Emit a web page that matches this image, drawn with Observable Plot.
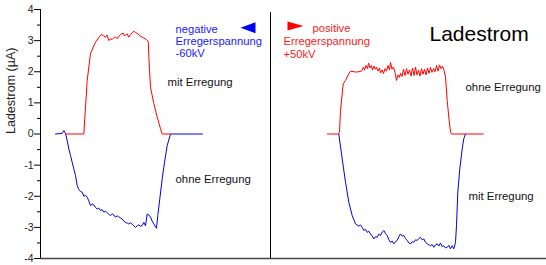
<!DOCTYPE html>
<html>
<head>
<meta charset="utf-8">
<script src="https://cdn.jsdelivr.net/npm/d3@7"></script>
<script src="https://cdn.jsdelivr.net/npm/@observablehq/plot@0.6"></script>
<style>
  html, body { margin: 0; padding: 0; background: #fff; }
  #chart { width: 546px; height: 265px; }
</style>
</head>
<body>
<div id="chart"></div>
<script>
// time (arbitrary units) and current (µA)
const leftRed = [[25,0],[43.3,0],[46.7,1.72],[50,2.59],[55,2.95],[60,3.17],[61.7,3.2],[63,3.15],[65,3.11],[66.5,3.18],[68.3,3.0],[70,3.06],[71.5,3.03],[73.3,3.09],[75,3.12],[76.7,3.06],[78,3.12],[80,3.2],[82.7,3.24],[84,3.15],[85,3.17],[86.5,3.22],[88.3,3.11],[90,3.2],[91.5,3.25],[93.3,3.3],[95,3.26],[97.3,3.22],[99,3.16],[101.7,3.11],[103.5,3.08],[106,3.03],[107.7,2.98],[109,2.04],[110,1.5],[113.3,0.98],[116.7,0.54],[120,0.17],[121.7,0],[130,0]];
const leftBlue = [[15,0],[21.7,0.02],[23.3,0.11],[25,0.02],[26.7,-0.21],[28.3,-0.48],[30,-0.69],[31.7,-0.91],[33.3,-1.12],[35,-1.33],[36.7,-1.66],[38.3,-1.78],[40,-1.85],[41.7,-1.87],[43.3,-2.0],[45,-1.97],[46.7,-2.03],[48.3,-2.15],[50,-2.3],[51.7,-2.25],[53.3,-2.28],[55,-2.36],[56.7,-2.41],[58.3,-2.38],[60,-2.46],[61.7,-2.43],[63.3,-2.51],[65,-2.48],[66.7,-2.53],[68.3,-2.58],[70,-2.62],[71.7,-2.57],[73.3,-2.6],[75,-2.67],[76.7,-2.63],[78.3,-2.66],[80,-2.7],[81.7,-2.73],[83.3,-2.8],[85,-2.84],[86.7,-2.86],[88.3,-2.89],[90,-2.85],[91.7,-2.9],[93.3,-2.95],[95,-3.0],[96.7,-2.95],[98.3,-2.92],[100,-2.96],[101.7,-2.94],[103.3,-2.84],[105,-2.95],[106.7,-2.57],[108.3,-2.6],[110,-2.67],[111.7,-2.8],[113.3,-2.89],[116,-3.03],[117.3,-2.62],[119.3,-2.08],[121.7,-1.44],[124,-0.91],[126.7,-0.37],[130,0],[162,0]];
const rightRed = [[287,0],[298,0],[299,0.06],[300,0.76],[302.7,1.61],[305,1.72],[308.3,1.94],[310,2.02],[315,1.99],[318,2.0],[321,2.02],[323,2.15],[324,2.05],[325.5,2.2],[327,2.1],[328,2.28],[329.5,2.12],[331,2.2],[332,2.05],[333.5,2.18],[335,2.08],[336,2.15],[337.5,2.02],[339,2.12],[340,1.96],[341.5,2.06],[343,1.94],[344.5,2.1],[346,2.02],[347.5,2.2],[349,2.06],[350,2.3],[351.5,2.08],[353,2.15],[354.5,1.98],[356,1.72],[357.5,1.9],[359,1.82],[360,1.95],[361.5,1.85],[363,2.08],[364.5,1.88],[366,2.1],[367.5,1.92],[369,2.06],[370.5,1.86],[372,2.12],[373.5,1.88],[375,2.15],[376.5,1.9],[378,2.05],[379.5,1.86],[381,2.1],[382.5,1.92],[384,2.08],[385.5,1.9],[387,2.12],[388.5,1.95],[390,2.14],[391.5,1.98],[393,2.1],[394.5,2.0],[396,2.2],[397.5,2.02],[399,2.22],[400.5,2.1],[402,2.18],[403.5,2.05],[405,1.83],[406.7,1.08],[408.3,0.54],[410,0.06],[411,0],[442.7,0]];
const rightBlue = [[298.3,0],[301.7,-0.8],[305,-1.55],[308.3,-2.19],[311.7,-2.62],[315,-2.89],[318.3,-2.96],[320,-2.92],[321.7,-3.0],[323.3,-3.1],[325,-3.06],[326.7,-3.16],[328.3,-3.12],[330,-3.21],[331.7,-3.28],[333.3,-3.37],[335,-3.3],[336.7,-3.32],[338.3,-3.22],[340,-3.26],[341.7,-3.15],[343.3,-3.1],[345,-3.2],[346.7,-3.26],[348.3,-3.4],[350,-3.48],[351.7,-3.44],[353.3,-3.53],[355,-3.46],[356.7,-3.42],[358.3,-3.3],[360,-3.21],[361.7,-3.28],[363.3,-3.26],[365,-3.36],[366.7,-3.42],[368.3,-3.5],[370,-3.53],[371.7,-3.46],[373.3,-3.48],[375,-3.4],[376.7,-3.42],[378.3,-3.36],[380,-3.32],[381.7,-3.4],[383.3,-3.37],[385,-3.48],[386.7,-3.53],[388.3,-3.56],[390,-3.59],[391.7,-3.55],[393.3,-3.64],[395,-3.56],[396.7,-3.53],[398.3,-3.6],[400,-3.5],[401.7,-3.62],[403.3,-3.59],[405,-3.66],[406.7,-3.64],[408.3,-3.58],[410,-3.69],[411.7,-3.59],[413.3,-3.69],[415,-3.48],[416,-2.94],[417.3,-1.87],[419.3,-1.12],[421.7,-0.48],[423.3,-0.15],[425,0]];

const majorTicks = [-4,-3,-2,-1,0,1,2,3,4];
const minorTicks = [-3.5,-2.5,-1.5,-0.5,0.5,1.5,2.5,3.5];
const dividerX = 230;

const blackLabels = [
  {x: 127, y: 1.67, text: "mit Erregung"},
  {x: 135, y: -1.45, text: "ohne Erregung"},
  {x: 425, y: 1.51, text: "ohne Erregung"},
  {x: 428, y: -1.99, text: "mit Erregung"}
];
const blueLabels = [
  {x: 135, y: 3.36, text: "negative"},
  {x: 135, y: 2.99, text: "Erregerspannung"},
  {x: 135, y: 2.58, text: "-60kV"}
];
const redLabels = [
  {x: 272, y: 3.39, text: "positive"},
  {x: 243, y: 2.99, text: "Erregerspannung"},
  {x: 243, y: 2.56, text: "+50kV"}
];
const titleText = [{x: 389, y: 3.2, text: "Ladestrom"}];
const blueMarker = [{x: 207.5, y: 3.41}];
const redMarker = [{x: 255, y: 3.47}];

const toObj = a => a.map(([t, v]) => ({t, v}));
const BLUE = "#0000e0", RED = "#ff0000";
const leftTri = {draw(c) { c.moveTo(-7.5, 0); c.lineTo(7.5, -5.5); c.lineTo(7.5, 5.5); c.closePath(); }};
const rightTri = {draw(c) { c.moveTo(8, 0); c.lineTo(-8, -4.5); c.lineTo(-8, 4.5); c.closePath(); }};

const chart = Plot.plot({
  width: 546, height: 265,
  marginLeft: 40, marginRight: 0, marginTop: 9, marginBottom: 7,
  style: {fontFamily: "'Liberation Sans', Arial, sans-serif", background: "#fff", overflow: "visible"},
  x: {domain: [0, 506], axis: null},
  y: {domain: [-4, 4], axis: null},
  marks: [
    Plot.axisY(majorTicks, {tickSize: 6, tickPadding: 1, fontSize: 10.5, label: null, tickFormat: d => String(d), stroke: "#000", fill: "#222"}),
    Plot.axisY(minorTicks, {tickSize: 3, tickFormat: () => "", label: null, stroke: "#000"}),
    Plot.ruleX([0], {y1: -4, y2: 4, stroke: "#000"}),
    Plot.ruleY([-4], {stroke: "#444", strokeWidth: 1.5}),
    Plot.ruleX([dividerX], {y1: -4, y2: 3.9, stroke: "#000"}),
    Plot.line(toObj(leftBlue), {x: "t", y: "v", stroke: BLUE, strokeWidth: 1}),
    Plot.line(toObj(leftRed), {x: "t", y: "v", stroke: RED, strokeWidth: 1}),
    Plot.line(toObj(rightBlue), {x: "t", y: "v", stroke: BLUE, strokeWidth: 1}),
    Plot.line(toObj(rightRed), {x: "t", y: "v", stroke: RED, strokeWidth: 1}),
    Plot.text(blackLabels, {x: "x", y: "y", text: "text", textAnchor: "start", fill: "#111", fontSize: 11.4}),
    Plot.text(blueLabels, {x: "x", y: "y", text: "text", textAnchor: "start", fill: "#1a1aff", fontSize: 11.2}),
    Plot.text(redLabels, {x: "x", y: "y", text: "text", textAnchor: "start", fill: "#ff1a1a", fontSize: 11.2}),
    Plot.text(titleText, {x: "x", y: "y", text: "text", textAnchor: "start", fill: "#000", fontSize: 21}),
    Plot.dot(blueMarker, {x: "x", y: "y", symbol: leftTri, fill: "#0000ff", stroke: null, r: 5}),
    Plot.dot(redMarker, {x: "x", y: "y", symbol: rightTri, fill: "#ff0000", stroke: null, r: 5}),
    Plot.text(["Ladestrom (µA)"], {frameAnchor: "left", dx: -30, y: 0, text: d => d, rotate: -90, fontSize: 12.5, fill: "#222"})
  ]
});
document.getElementById("chart").appendChild(chart);
</script>
</body>
</html>
